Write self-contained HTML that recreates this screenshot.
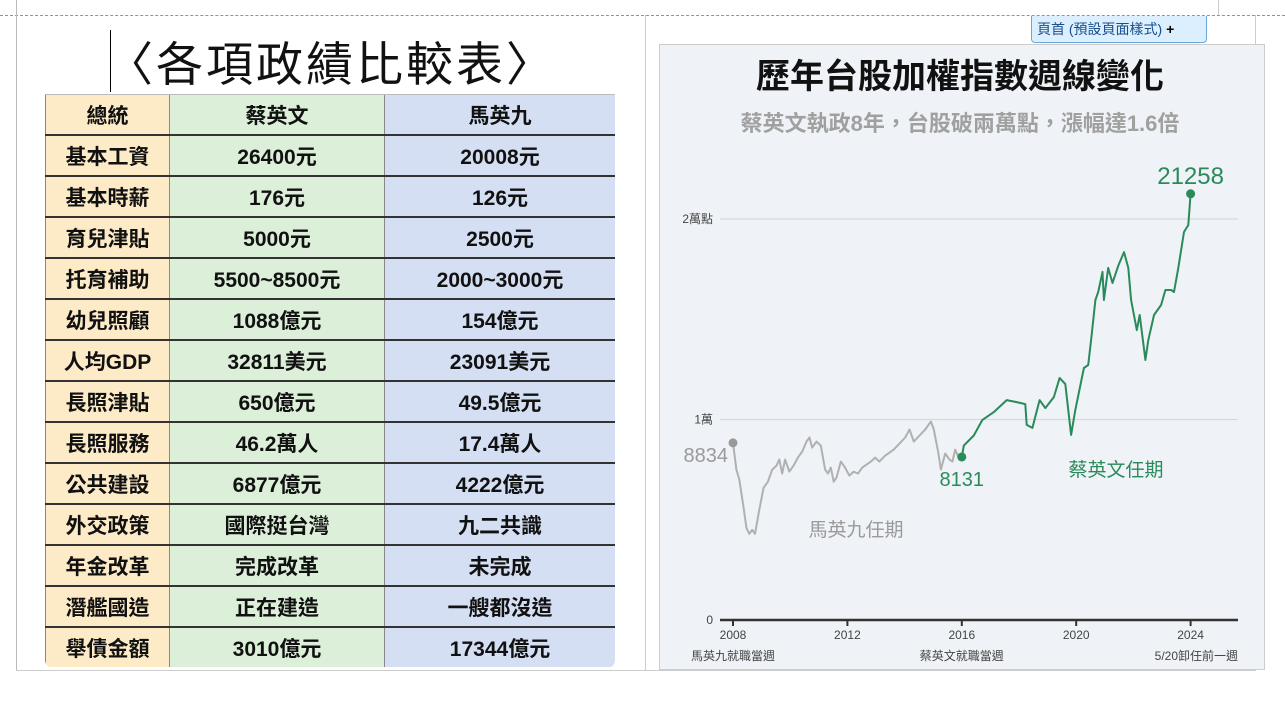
<!DOCTYPE html>
<html><head><meta charset="utf-8">
<style>
body{margin:0;width:1285px;height:706px;background:#fff;position:relative;overflow:hidden;font-family:"Liberation Sans","Noto Sans CJK TC",sans-serif}
.abs{position:absolute}
.tw{position:absolute;left:45px;top:94px;width:570px;height:574px;overflow:hidden;border-radius:0 0 8px 8px}
table{border-collapse:collapse;width:570px;font-weight:bold;font-size:21px;color:#111;font-family:"Liberation Sans","Noto Sans CJK TC",sans-serif}
td{height:39px;padding:0;text-align:center;border-top:2px solid #333;border-left:1px solid #888}
tr:first-child td{border-top:1px solid #bbb}
td.a{background:#fdebc8;width:123px}
td.b{background:#dcefd9;width:214px}
td.c{background:#d5dff3}
</style></head><body>
<div class="abs" style="left:0;top:15px;width:1285px;border-top:1px dashed #6a9fc0"></div>
<div class="abs" style="left:16px;top:0;width:1px;height:670px;background:#bbb"></div>
<div class="abs" style="left:16px;top:670px;width:1240px;height:1px;background:#ccc"></div>
<div class="abs" style="left:645px;top:15px;width:1px;height:655px;background:#ccc"></div>
<div class="abs" style="left:1255px;top:15px;width:1px;height:655px;background:#ccc"></div>
<div class="abs" style="left:1218px;top:0;width:1px;height:15px;background:#ccc"></div>
<div class="abs" style="left:110px;top:30px;width:1px;height:62px;background:#000"></div>
<div class="abs" style="left:106px;top:26px;font-size:47px;color:#111;white-space:nowrap;letter-spacing:3px">〈各項政績比較表〉</div>

<div class="tw">
<table>
<tr><td class="a">總統</td><td class="b">蔡英文</td><td class="c">馬英九</td></tr>
<tr><td class="a">基本工資</td><td class="b">26400元</td><td class="c">20008元</td></tr>
<tr><td class="a">基本時薪</td><td class="b">176元</td><td class="c">126元</td></tr>
<tr><td class="a">育兒津貼</td><td class="b">5000元</td><td class="c">2500元</td></tr>
<tr><td class="a">托育補助</td><td class="b">5500~8500元</td><td class="c">2000~3000元</td></tr>
<tr><td class="a">幼兒照顧</td><td class="b">1088億元</td><td class="c">154億元</td></tr>
<tr><td class="a">人均GDP</td><td class="b">32811美元</td><td class="c">23091美元</td></tr>
<tr><td class="a">長照津貼</td><td class="b">650億元</td><td class="c">49.5億元</td></tr>
<tr><td class="a">長照服務</td><td class="b">46.2萬人</td><td class="c">17.4萬人</td></tr>
<tr><td class="a">公共建設</td><td class="b">6877億元</td><td class="c">4222億元</td></tr>
<tr><td class="a">外交政策</td><td class="b">國際挺台灣</td><td class="c">九二共識</td></tr>
<tr><td class="a">年金改革</td><td class="b">完成改革</td><td class="c">未完成</td></tr>
<tr><td class="a">潛艦國造</td><td class="b">正在建造</td><td class="c">一艘都沒造</td></tr>
<tr><td class="a">舉債金額</td><td class="b">3010億元</td><td class="c">17344億元</td></tr>
</table>
</div>

<div class="abs" style="left:659px;top:44px;width:606px;height:626px;background:#eff3f7;border:1px solid #ccc;box-sizing:border-box"></div>
<div class="abs" style="left:1031px;top:16px;width:176px;height:27px;background:#dcefff;border:1px solid #6aa6d8;border-top:none;border-radius:0 0 4px 4px;font-size:14px;color:#1a4f8a;line-height:27px;padding-left:5px;box-sizing:border-box;white-space:nowrap">頁首 (預設頁面樣式) <b style="color:#000">+</b></div>

<svg class="abs" style="left:0;top:0" width="1285" height="706">
<text x="960" y="88" text-anchor="middle" font-size="34" font-weight="bold" fill="#111" font-family="Liberation Sans,Noto Sans CJK TC,sans-serif">歷年台股加權指數週線變化</text>
<text x="960" y="131" text-anchor="middle" font-size="22" font-weight="bold" fill="#a0a0a0" font-family="Liberation Sans,Noto Sans CJK TC,sans-serif">蔡英文執政8年，台股破兩萬點，漲幅達1.6倍</text>
<g id="plot"></g>
</svg>
<script>
const yTicks=[0,10000,20000];
const yTickLabels=["0","1萬","2萬點"];
const xTicks=[2008.38,2012.38,2016.38,2020.38,2024.38];
const xTickLabels=["2008","2012","2016","2020","2024"];
const xSubLabels=["馬英九就職當週","","蔡英文就職當週","","5/20卸任前一週"];
const maDates=[2008.38,2008.5,2008.6,2008.75,2008.85,2008.95,2009.05,2009.15,2009.3,2009.45,2009.6,2009.75,2009.9,2010.0,2010.1,2010.2,2010.35,2010.5,2010.65,2010.8,2010.95,2011.05,2011.15,2011.3,2011.45,2011.6,2011.7,2011.8,2011.9,2012.0,2012.15,2012.3,2012.45,2012.6,2012.75,2012.9,2013.0,2013.2,2013.35,2013.5,2013.7,2013.9,2014.0,2014.2,2014.4,2014.55,2014.7,2014.9,2015.1,2015.3,2015.4,2015.55,2015.65,2015.8,2015.95,2016.05,2016.15,2016.3,2016.38];
const maValues=[8834,7500,7000,5600,4600,4300,4500,4300,5500,6600,6900,7500,7700,8000,7300,8000,7400,7700,8100,8400,8900,9100,8600,8900,8700,7500,7300,7600,6900,7100,7900,7600,7200,7400,7300,7600,7700,7900,8100,7900,8200,8400,8500,8800,9100,9500,8900,9200,9500,9900,9500,8400,7500,8300,8000,7900,8500,8000,8131];
const tsaiDates=[2016.38,2016.45,2016.8,2017.1,2017.5,2017.95,2018.3,2018.6,2018.65,2018.85,2019.1,2019.3,2019.6,2019.8,2020.0,2020.2,2020.35,2020.65,2020.8,2020.9,2021.05,2021.15,2021.3,2021.35,2021.5,2021.65,2021.85,2022.05,2022.2,2022.3,2022.5,2022.6,2022.8,2022.9,2023.1,2023.35,2023.5,2023.7,2023.8,2023.95,2024.15,2024.3,2024.38];
const tsaiValues=[8131,8700,9200,9980,10370,10970,10870,10770,9730,9580,10970,10570,11120,12070,11770,9230,10470,12570,12720,13960,15960,16360,17360,15960,17560,16810,17660,18350,17560,15960,14460,15210,12970,13960,15210,15710,16460,16460,16360,17560,19350,19700,21258];

const NS="http://www.w3.org/2000/svg";
const g=document.getElementById('plot');
const X=t=>733+(t-2008.38)*28.6;
const Y=v=>620-v*0.02005;
function mk(tag,attrs,txt){const e=document.createElementNS(NS,tag);for(const k in attrs)e.setAttribute(k,attrs[k]);if(txt!==undefined)e.textContent=txt;g.appendChild(e);return e;}
const FF="Liberation Sans,Noto Sans CJK TC,sans-serif";
yTicks.forEach((v,i)=>{
  if(v>0){const l=mk('line',{x1:720,x2:1238,y1:Y(v),y2:Y(v),stroke:'#d5d9dd','stroke-width':1.2});
  
  }
  const t=mk('text',{x:713,y:Y(v)+4,'text-anchor':'end','font-size':12,fill:'#444','font-family':FF},yTickLabels[i]);
  
  
});
const ax=mk('line',{x1:720,x2:1238,y1:620,y2:620,stroke:'#333','stroke-width':2.5});


xTicks.forEach((t,i)=>{
  const tk=mk('line',{x1:X(t),x2:X(t),y1:620,y2:626,stroke:'#333','stroke-width':2});
  
  
  const lb=mk('text',{x:X(t),y:639,'text-anchor':'middle','font-size':12,fill:'#444','font-family':FF},xTickLabels[i]);
  
  
  if(xSubLabels[i]){const s=mk('text',{x:i==4?1238:X(t),y:660,'text-anchor':i==4?'end':'middle','font-size':12,fill:'#444','font-family':FF},xSubLabels[i]);
  
  }
});
const pts=(d,v)=>d.map((t,i)=>X(t).toFixed(1)+','+Y(v[i]).toFixed(1)).join(' ');
const ma=mk('polyline',{points:pts(maDates,maValues),fill:'none',stroke:'#b0b0b0','stroke-width':2,'stroke-linejoin':'round'});


const ts=mk('polyline',{points:pts(tsaiDates,tsaiValues),fill:'none',stroke:'#2a8a5a','stroke-width':2,'stroke-linejoin':'round'});


const d1=mk('circle',{cx:X(maDates[0]),cy:Y(maValues[0]),r:4.5,fill:'#999'});


const d2=mk('circle',{cx:X(tsaiDates[0]),cy:Y(tsaiValues[0]),r:4.5,fill:'#2a8a5a'});


const n=tsaiDates.length-1;
const d3=mk('circle',{cx:X(tsaiDates[n]),cy:Y(tsaiValues[n]),r:4.5,fill:'#2a8a5a'});


const l1=mk('text',{x:X(maDates[0])-5,y:Y(maValues[0])+19,'text-anchor':'end','font-size':20,fill:'#999','font-family':FF},String(maValues[0]));


const l2=mk('text',{x:X(tsaiDates[0]),y:Y(tsaiValues[0])+29,'text-anchor':'middle','font-size':20,fill:'#2a8a5a','font-family':FF},String(tsaiValues[0]));


const l3=mk('text',{x:X(tsaiDates[n]),y:Y(tsaiValues[n])-10,'text-anchor':'middle','font-size':24,fill:'#2a8a5a','font-family':FF},String(tsaiValues[n]));


const a1=mk('text',{x:856,y:536,'text-anchor':'middle','font-size':19,fill:'#999','font-family':FF},'馬英九任期');


const a2=mk('text',{x:1116,y:476,'text-anchor':'middle','font-size':19,fill:'#2a8a5a','font-family':FF},'蔡英文任期');


</script>
</body></html>
